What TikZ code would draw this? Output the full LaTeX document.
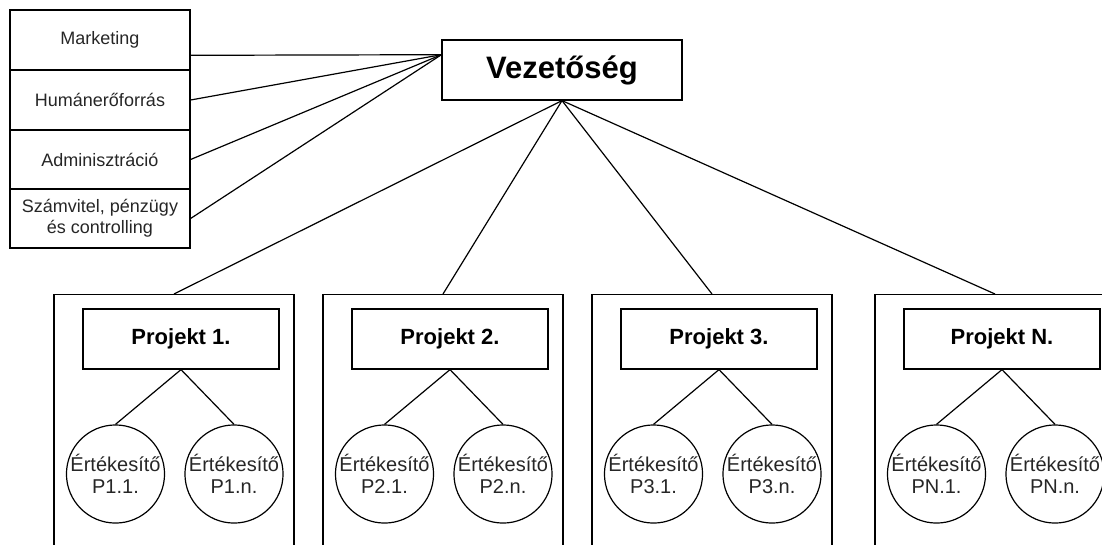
\documentclass[tikz,border=0pt]{standalone}
\usepackage{fontspec}
\setmainfont{Liberation Sans}
\usetikzlibrary{calc}

\begin{document}
\begin{tikzpicture}[x=1pt,y=-1pt,line width=1.2pt,
  unitbox/.style={draw,minimum width=180pt,inner sep=0pt,align=center,
    text=black!85,font=\fontsize{18}{21}\selectfont},
  headbox/.style={draw,fill=white,minimum width=240pt,minimum height=60pt,
    inner sep=0pt,font=\fontsize{31}{36}\selectfont\bfseries},
  frame/.style={draw,minimum width=240pt,minimum height=300pt,inner sep=0pt,anchor=north},
  projbox/.style={draw,fill=white,minimum width=196pt,minimum height=60pt,
    inner sep=0pt,font=\fontsize{22}{26}\selectfont\bfseries},
  seller/.style={draw,circle,minimum size=91pt,inner sep=0pt,align=center,
    text=black!85,font=\fontsize{20}{22}\selectfont},
  link/.style={draw}]

\useasboundingbox (0,0) rectangle (1102,544);
\clip (0,0) rectangle (1102,544);

% support units on the left
\node[unitbox,minimum height=60pt] (mk)  at (100,40)    {Marketing};
\node[unitbox,minimum height=60pt] (hr)  at (100,100)   {Humánerőforrás};
\node[unitbox,minimum height=59pt] (adm) at (100,159.5) {Adminisztráció};
\node[unitbox,minimum height=59pt] (fin) at (100,218.5) {Számvitel, pénzügy\\és controlling};

% management
\node[headbox] (vez) at (562,70) {Vezetőség};
\coordinate (vzin) at ($(vez.north west)!0.25!(vez.south west)$);
\coordinate (mkout) at ($(mk.north east)!0.75!(mk.south east)$);

\draw[link] (mkout) -- (vzin);
\draw[link] (hr.east) -- (vzin);
\draw[link] (adm.east) -- (vzin);
\draw[link] (fin.east) -- (vzin);

% project frames with their project boxes and sellers
\foreach \i/\lx/\lab in {1/54/1, 2/323/2, 3/592/3, 4/875/N}{
  \node[frame] (fr\i) at (\lx+120,294) {};
  \node[projbox] (pr\i) at (\lx+127,339) {Projekt \lab.};
  \node[seller] (sa\i) at (\lx+61.5,474) {Értékesítő\\P\lab.1.};
  \node[seller] (sb\i) at (\lx+180,474) {Értékesítő\\P\lab.n.};
  \draw[link] (vez.south) -- (fr\i.north);
  \draw[link] (pr\i.south) -- (sa\i.north);
  \draw[link] (pr\i.south) -- (sb\i.north);
}
\end{tikzpicture}
\end{document}
